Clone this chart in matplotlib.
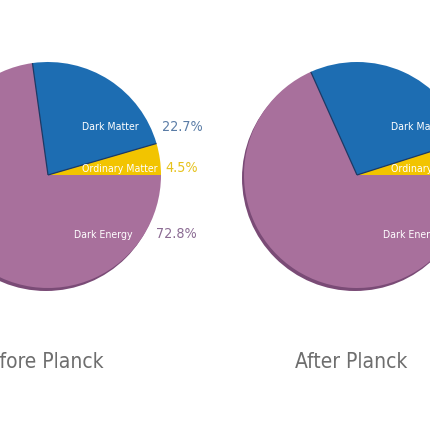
import matplotlib
matplotlib.use("Agg")
import matplotlib.pyplot as plt
import numpy as np
from matplotlib.patches import Circle

# composition of the universe, percent
components = ["Ordinary Matter", "Dark Matter", "Dark Energy"]
before_planck = [4.5, 22.7, 72.8]
after_planck = [4.9, 26.8, 68.3]
titles = ["Before Planck", "After Planck"]

wedge_colors = ["#f2c400", "#1d6db2", "#a8709c"]
pct_colors = ["#e6c21c", "#5a7ca6", "#8b6b93"]
shadow_color = "#7a4b76"
title_color = "#6e6e6e"

font = dict(family="DejaVu Sans", fontstretch="condensed")

fig = plt.figure(figsize=(4.3, 4.3), dpi=100)
ax = fig.add_axes([0, 0, 1, 1])

radius = 113
centers = [(48, 255), (357, 255)]
title_dx = [-9, -6]
# label offsets from pie centre (x, y) for [ordinary, dark matter, dark energy]
name_off = [(72, 6), (62, 48), (55, -60)]
pct_off = [(134, 7), (134, 48), (128, -59)]

for (cx, cy), vals, title, dx in zip(centers, [before_planck, after_planck], titles, title_dx):
    ax.add_patch(Circle((cx - 2, cy - 3), radius, color=shadow_color, lw=0, zorder=0))
    wedges, _ = ax.pie(vals, colors=wedge_colors, startangle=0, counterclock=True,
                       center=(cx, cy), radius=radius,
                       wedgeprops=dict(linewidth=0))
    for w in wedges:
        w.set_zorder(1)
    # thin dark edges on the dark matter wedge
    blue = wedges[1]
    for ang in (blue.theta1, blue.theta2):
        t = np.deg2rad(ang)
        ax.plot([cx, cx + radius * np.cos(t)], [cy, cy + radius * np.sin(t)],
                color="#1b3a66", lw=0.9, zorder=2, solid_capstyle="butt")
    for i, name in enumerate(components):
        ax.text(cx + name_off[i][0], cy + name_off[i][1], name, color="white",
                fontsize=7.6, ha="center", va="center", zorder=3, **font)
        ax.text(cx + pct_off[i][0], cy + pct_off[i][1], f"{vals[i]}%",
                color=pct_colors[i], fontsize=10.3, ha="center", va="center",
                zorder=3, **font)
    ax.text(cx + dx, 68, title, color=title_color, fontsize=15,
            ha="center", va="center", **font)

ax.set_xlim(0, 430)
ax.set_ylim(0, 430)
ax.set_aspect("equal")
ax.axis("off")

fig.savefig("out.png", dpi=100, facecolor="white")
